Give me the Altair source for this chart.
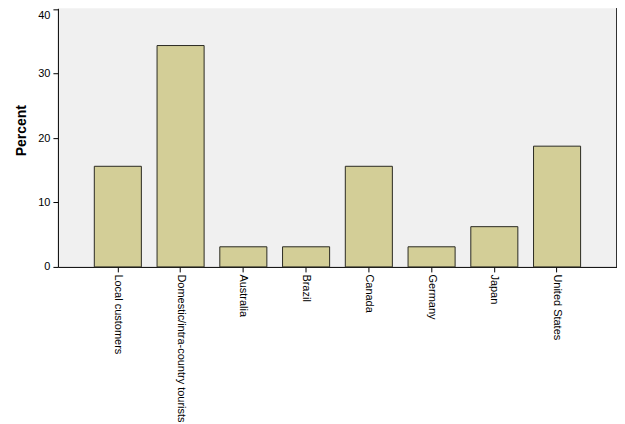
import altair as alt
import pandas as pd

categories = ["Local customers", "Domestic/intra-country tourists", "Australia", "Brazil",
              "Canada", "Germany", "Japan", "United States"]
percents = [15.625, 34.375, 3.125, 3.125, 15.625, 3.125, 6.25, 18.75]
y_ticks = [0, 10, 20, 30, 40]

df = pd.DataFrame({"cat": categories, "pct": percents})

FONT = "Liberation Sans"

x = alt.X("cat:N", sort=categories, title=None,
          scale=alt.Scale(paddingInner=0.25, paddingOuter=0.58),
          axis=alt.Axis(labelAngle=90, labelAlign="left", labelBaseline="middle",
                        labelFontSize=11, labelFont=FONT, labelColor="#000000",
                        tickSize=5, tickColor="#000000", domainColor="#000000",
                        labelPadding=2, labelLimit=300))
y = alt.Y("pct:Q", title="Percent",
          scale=alt.Scale(domain=[0, 40.15], nice=False),
          axis=alt.Axis(values=y_ticks, grid=False, tickSize=5, tickColor="#000000",
                        domainColor="#000000", labelFontSize=11, labelFont=FONT,
                        labelColor="#000000", labelPadding=3,
                        labelBaseline=alt.ExprRef(expr="datum.value >= 40 ? 'top' : 'middle'"),
                        titleFont=FONT, titleFontSize=14, titleFontWeight="bold",
                        titleColor="#000000", titleBaseline="middle",
                        titleX=-36, titleY=122))

bars = alt.Chart(df).mark_bar(color="#D3CE97", stroke="#2a2a22", strokeWidth=1).encode(x=x, y=y)

right_border = alt.Chart(df).mark_rule(color="#333333", strokeWidth=1).encode(
    x=alt.value(560), y=alt.value(0), y2=alt.value(259))

chart = (bars + right_border).properties(
    width=560, height=259,
    autosize=alt.AutoSizeParams(type="none"),
    padding={"left": 50, "top": 0, "right": 0, "bottom": 155},
    background="#FFFFFF",
).configure_view(fill="#F0F0F0", strokeWidth=0)

chart.save("out.html", embed_options={"renderer": "svg", "actions": False})
